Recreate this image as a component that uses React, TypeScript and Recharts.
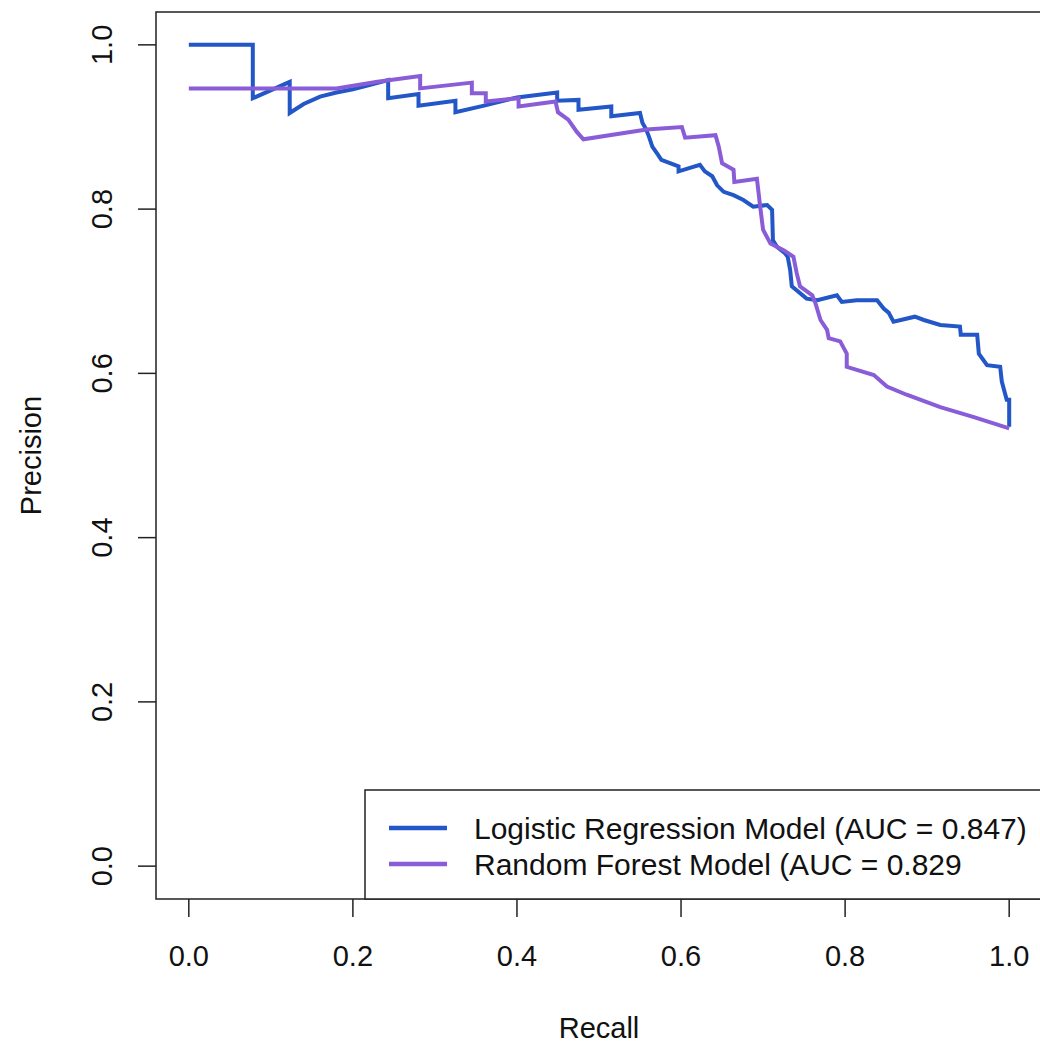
import { LineChart, Line, XAxis, YAxis, ReferenceArea } from 'recharts';

const FONT = '"Liberation Sans", Arial, Helvetica, sans-serif';
const LR_COLOR = '#2356c6';
const RF_COLOR = '#8a5dd8';

// logistic regression PR curve
const lrRecall = [
  0, 0.078, 0.078, 0.123, 0.123, 0.14, 0.16, 0.18, 0.2, 0.22, 0.243, 0.243, 0.28, 0.28,
  0.325, 0.325, 0.36, 0.4, 0.449, 0.449, 0.475, 0.475, 0.515, 0.515, 0.55, 0.553, 0.557,
  0.561, 0.565, 0.572, 0.576, 0.597, 0.597, 0.623, 0.629, 0.638, 0.644, 0.652, 0.664,
  0.676, 0.688, 0.705, 0.711, 0.712, 0.717, 0.727, 0.73, 0.733, 0.735, 0.753, 0.766,
  0.79, 0.796, 0.814, 0.839, 0.847, 0.853, 0.859, 0.885, 0.896, 0.916, 0.94, 0.941,
  0.961, 0.963, 0.973, 0.989, 0.991, 0.997, 1.0, 1.0,
];
const lrPrecision = [
  1.0, 1.0, 0.935, 0.955, 0.917, 0.928, 0.937, 0.942, 0.946, 0.951, 0.957, 0.935, 0.94, 0.926,
  0.932, 0.918, 0.926, 0.936, 0.942, 0.932, 0.933, 0.921, 0.925, 0.913, 0.917, 0.905, 0.898,
  0.888, 0.876, 0.866, 0.86, 0.852, 0.846, 0.854, 0.846, 0.84, 0.829, 0.821, 0.817,
  0.811, 0.803, 0.805, 0.799, 0.762, 0.754, 0.746, 0.742, 0.726, 0.706, 0.691, 0.689,
  0.695, 0.687, 0.689, 0.689, 0.679, 0.674, 0.663, 0.669, 0.665, 0.659, 0.657, 0.647,
  0.647, 0.624, 0.61, 0.608, 0.59, 0.568, 0.568, 0.535,
];

// random forest PR curve
const rfRecall = [
  0, 0.18, 0.23, 0.282, 0.282, 0.345, 0.345, 0.362, 0.362, 0.402, 0.402, 0.447, 0.45,
  0.4625, 0.473, 0.481, 0.558, 0.601, 0.605, 0.642, 0.646, 0.65, 0.664, 0.665, 0.6925,
  0.6965, 0.7, 0.709, 0.725, 0.737, 0.741, 0.745, 0.76, 0.764, 0.77, 0.778, 0.78, 0.794,
  0.802, 0.802, 0.835, 0.851, 0.875, 0.916, 0.956, 1.0,
];
const rfPrecision = [
  0.947, 0.947, 0.955, 0.962, 0.947, 0.954, 0.941, 0.941, 0.931, 0.935, 0.925, 0.931, 0.918,
  0.909, 0.894, 0.885, 0.897, 0.9, 0.887, 0.89, 0.876, 0.856, 0.848, 0.833, 0.837,
  0.803, 0.775, 0.758, 0.75, 0.742, 0.722, 0.706, 0.695, 0.685, 0.665, 0.653, 0.643, 0.639,
  0.624, 0.608, 0.598, 0.584, 0.574, 0.559, 0.547, 0.533,
];

const axisTicks = [0, 0.2, 0.4, 0.6, 0.8, 1.0];
const legendNames = ['Logistic Regression Model (AUC = 0.847)', 'Random Forest Model (AUC = 0.829'];

const lrData = lrRecall.map((r, i) => ({ recall: r, precision: lrPrecision[i] }));
const rfData = rfRecall.map((r, i) => ({ recall: r, precision: rfPrecision[i] }));

const YTick = (props: any) => {
  const { x, y, payload } = props;
  return (
    <text x={x} y={y} transform={`rotate(-90 ${x} ${y})`} textAnchor="middle"
      fontSize={29} fontFamily={FONT} fill="#111">
      {Number(payload.value).toFixed(1)}
    </text>
  );
};

export default function App() {
  return (
    <div style={{ position: 'fixed', left: 0, top: 0, width: 1040, height: 1047, overflow: 'hidden', background: '#fff' }}>
      <LineChart width={1060} height={1047} margin={{ top: 12, right: 18, bottom: 0, left: 0 }}>
        <XAxis
          type="number"
          dataKey="recall"
          domain={[-0.04, 1.04]}
          ticks={axisTicks}
          tickFormatter={(v: number) => v.toFixed(1)}
          allowDuplicatedCategory
          height={148}
          tickSize={18}
          tickMargin={28}
          axisLine={false}
          tickLine={{ stroke: '#222', strokeWidth: 1.5 }}
          tick={{ fontSize: 29, fontFamily: FONT, fill: '#111' }}
          label={{
            content: (p: any) => {
              const vb = p.viewBox;
              return (
                <text x={vb.x + vb.width / 2} y={1038} textAnchor="middle" fontSize={29} fontFamily={FONT} fill="#111">
                  Recall
                </text>
              );
            },
          }}
        />
        <YAxis
          type="number"
          domain={[-0.04, 1.04]}
          ticks={axisTicks}
          width={156}
          tickSize={18}
          tickMargin={26}
          axisLine={false}
          tickLine={{ stroke: '#222', strokeWidth: 1.5 }}
          tick={<YTick />}
          label={{
            content: (p: any) => {
              const vb = p.viewBox;
              const cy = vb.y + vb.height / 2;
              return (
                <text x={41} y={cy} transform={`rotate(-90 41 ${cy})`} textAnchor="middle" fontSize={29} fontFamily={FONT} fill="#111">
                  Precision
                </text>
              );
            },
          }}
        />
        <ReferenceArea x1={-0.04} x2={1.04} y1={-0.04} y2={1.04} fill="none" fillOpacity={0}
          stroke="#222" strokeWidth={1.5} ifOverflow="visible" />
        <Line data={lrData} dataKey="precision" type="linear" stroke={LR_COLOR} strokeWidth={4}
          dot={false} isAnimationActive={false} />
        <Line data={rfData} dataKey="precision" type="linear" stroke={RF_COLOR} strokeWidth={4}
          dot={false} isAnimationActive={false} />
      </LineChart>
      <svg width={1040} height={1047} style={{ position: 'absolute', left: 0, top: 0, pointerEvents: 'none' }}>
        <rect x={365} y={790} width={700} height={109} fill="#fff" stroke="#222" strokeWidth={1.5} />
        {legendNames.map((name, i) => (
          <g key={name}>
            <line x1={389} x2={447} y1={828 + i * 36} y2={828 + i * 36}
              stroke={i === 0 ? LR_COLOR : RF_COLOR} strokeWidth={4.5} />
            <text x={474} y={828 + i * 36} dy="0.35em" fontSize={30} fontFamily={FONT} fill="#111">
              {name}
            </text>
          </g>
        ))}
      </svg>
    </div>
  );
}
